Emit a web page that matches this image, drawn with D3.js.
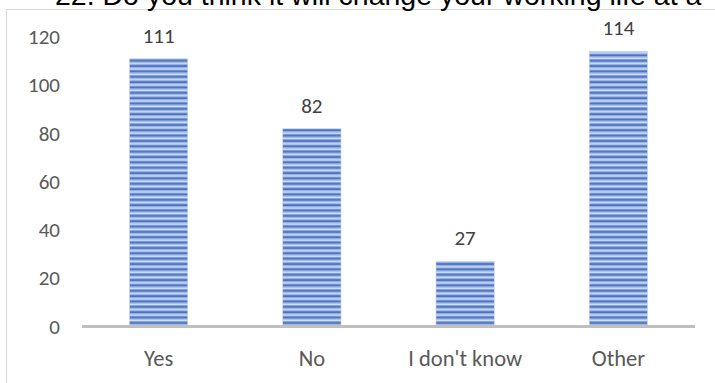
<!DOCTYPE html>
<html>
<head>
<meta charset="utf-8">
<script src="https://cdn.jsdelivr.net/npm/d3@7"></script>
<style>
  html, body { margin: 0; padding: 0; background: #fff; }
  svg { display: block; }
</style>
</head>
<body>
<svg id="chart" width="715" height="383"></svg>
<script>
const title = "22. Do you think it will change your working life at a";
const categories = ["Yes", "No", "I don't know", "Other"];
const values = [111, 82, 27, 114];
const yTicks = [0, 20, 40, 60, 80, 100, 120];

const W = 715, H = 383;
const svg = d3.select("#chart");

// pattern for bars (narrow horizontal stripes)
const defs = svg.append("defs");
const pat = defs.append("pattern")
  .attr("id", "stripes")
  .attr("patternUnits", "userSpaceOnUse")
  .attr("width", 10).attr("height", 5.35);
pat.append("rect").attr("width", 10).attr("height", 5.35).attr("fill", "#d3ddf2");
pat.append("rect").attr("y", 0).attr("width", 10).attr("height", 1).attr("fill", "#8ea8dd");
pat.append("rect").attr("y", 1).attr("width", 10).attr("height", 2).attr("fill", "#4472c4");
pat.append("rect").attr("y", 3).attr("width", 10).attr("height", 1).attr("fill", "#8ea8dd");

// chart border
svg.append("rect")
  .attr("x", 6.5).attr("y", 9.5)
  .attr("width", W + 20).attr("height", H + 20)
  .attr("fill", "none").attr("stroke", "#d9d9d9").attr("stroke-width", 1);

// title (clipped at top, as in the reference)
svg.append("text")
  .attr("x", 55).attr("y", 5)
  .attr("font-family", "Liberation Sans, Arial, sans-serif")
  .attr("font-size", 28.5)
  .attr("fill", "#000")
  .text(title);

const x = d3.scaleBand()
  .domain(categories)
  .range([82, 695])
  .paddingInner(0.62)
  .paddingOuter(0.31);

const y = d3.scaleLinear()
  .domain([0, 120])
  .range([326.5, 37]);

// y tick labels
const yAxis = d3.axisLeft(y).tickValues(yTicks).tickSize(0).tickPadding(0);
const gy = svg.append("g").attr("transform", "translate(60,0)").call(yAxis);
gy.select(".domain").remove();
gy.selectAll("text")
  .attr("font-family", "Carlito, Lato, sans-serif")
  .attr("font-size", 21)
  .attr("fill", "#595959");

// bars
svg.append("g").selectAll("rect")
  .data(values)
  .join("rect")
  .attr("x", (d, i) => x(categories[i]))
  .attr("y", d => y(d))
  .attr("width", x.bandwidth())
  .attr("height", d => y(0) - y(d))
  .attr("fill", "url(#stripes)")
  .attr("stroke", "#c5d2ee")
  .attr("stroke-width", 0.6);

// x axis line
svg.append("line")
  .attr("x1", 82).attr("x2", 695)
  .attr("y1", y(0)).attr("y2", y(0))
  .attr("stroke", "#bfbfbf").attr("stroke-width", 3);

// x axis labels
const xAxis = d3.axisBottom(x).tickSize(0).tickPadding(0);
const gx = svg.append("g").attr("transform", `translate(0,${y(0)})`).call(xAxis);
gx.select(".domain").remove();
gx.selectAll("text")
  .attr("dy", 0)
  .attr("y", 39)
  .attr("font-family", "Carlito, Lato, sans-serif")
  .attr("font-size", 22.5)
  .attr("fill", "#595959");

// data labels
svg.append("g").selectAll("text")
  .data(values)
  .join("text")
  .attr("x", (d, i) => x(categories[i]) + x.bandwidth() / 2)
  .attr("y", d => y(d) - 16)
  .attr("text-anchor", "middle")
  .attr("font-family", "Carlito, Lato, sans-serif")
  .attr("font-size", 21)
  .attr("fill", "#404040")
  .text(d => d);
</script>
</body>
</html>
